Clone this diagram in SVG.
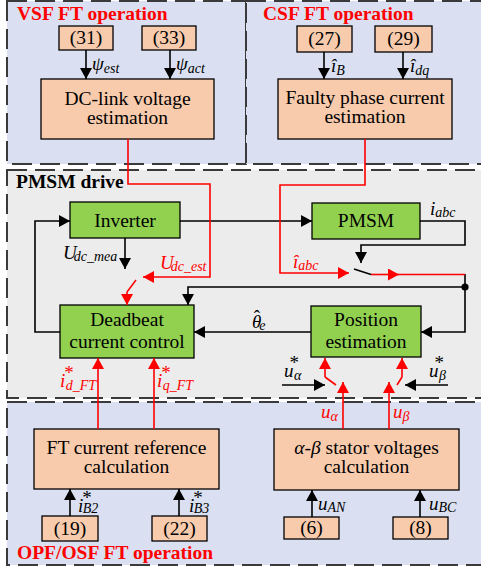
<svg xmlns="http://www.w3.org/2000/svg" width="481" height="569" viewBox="0 0 481 569">
  <style>
    text { font-family: "Liberation Serif", "Times New Roman", serif; }
    .panel { stroke: #3a3a3a; stroke-width: 2; stroke-dasharray: 20 8; }
    .blue { fill: #dae0f1; }
    .grey { fill: #ececec; }
    .title { font-size: 19.5px; font-weight: bold; }
    .red-t { fill: #ff0000; }
    .box { stroke: #000; stroke-width: 1.3; }
    .calc { fill: #f8cbad; }
    .blk { fill: #92d050; }
    .bt { font-size: 19.5px; fill: #000; text-anchor: middle; }
    .lab { font-size: 19px; font-style: italic; }
    .sub { font-size: 14px; }
    .star { font-style: normal; }
    .w { fill: none; stroke: #000; stroke-width: 1.6; }
    .r { fill: none; stroke: #ff0000; stroke-width: 1.6; }
  </style>
  <defs>
    <marker id="ah" markerUnits="userSpaceOnUse" markerWidth="11" markerHeight="12" refX="11" refY="6" orient="auto">
      <path d="M0,0 L11,6 L0,12 z" fill="#000"/>
    </marker>
    <marker id="ahr" markerUnits="userSpaceOnUse" markerWidth="11" markerHeight="12" refX="11" refY="6" orient="auto">
      <path d="M0,0 L11,6 L0,12 z" fill="#ff0000"/>
    </marker>
  </defs>

  <!-- background panels -->
  <g id="panels">
    <rect class="panel blue" x="7" y="1" width="239" height="163"/>
    <rect class="panel blue" x="246" y="1" width="240" height="163"/>
    <rect class="panel grey" x="7" y="170" width="480" height="228"/>
    <rect class="panel blue" x="7" y="402" width="480" height="163"/>
    <text class="title red-t" x="17" y="20">VSF FT operation</text>
    <text class="title red-t" x="263" y="20">CSF FT operation</text>
    <text class="title" x="16" y="188">PMSM drive</text>
    <text class="title red-t" x="17" y="559">OPF/OSF FT operation</text>
  </g>

  <!-- VSF blocks -->
  <g id="eq31">
    <rect class="box calc" x="59" y="26" width="54" height="24"/>
    <text class="bt" x="86" y="44">(31)</text>
  </g>
  <g id="eq33">
    <rect class="box calc" x="142" y="26" width="54" height="24"/>
    <text class="bt" x="169" y="44">(33)</text>
  </g>
  <g id="dclink">
    <rect class="box calc" x="41" y="79" width="173" height="60"/>
    <text class="bt" x="127.5" y="105">DC-link voltage</text>
    <text class="bt" x="127.5" y="124">estimation</text>
  </g>

  <!-- CSF blocks -->
  <g id="eq27">
    <rect class="box calc" x="297" y="26" width="55" height="26"/>
    <text class="bt" x="324.5" y="45">(27)</text>
  </g>
  <g id="eq29">
    <rect class="box calc" x="375" y="26" width="57" height="26"/>
    <text class="bt" x="403.5" y="45">(29)</text>
  </g>
  <g id="faulty">
    <rect class="box calc" x="278" y="79" width="174" height="60"/>
    <text class="bt" x="365" y="104">Faulty phase current</text>
    <text class="bt" x="365" y="123">estimation</text>
  </g>

  <!-- drive blocks -->
  <g id="inverter">
    <rect class="box blk" x="70" y="202" width="110" height="36"/>
    <text class="bt" x="125" y="227">Inverter</text>
  </g>
  <g id="pmsm">
    <rect class="box blk" x="312" y="203" width="108" height="36"/>
    <text class="bt" x="366" y="227">PMSM</text>
  </g>
  <g id="deadbeat">
    <rect class="box blk" x="60" y="305" width="134" height="53"/>
    <text class="bt" x="127" y="326">Deadbeat</text>
    <text class="bt" x="127" y="348">current control</text>
  </g>
  <g id="position">
    <rect class="box blk" x="311" y="306" width="110" height="51"/>
    <text class="bt" x="366" y="326">Position</text>
    <text class="bt" x="366" y="348">estimation</text>
  </g>

  <!-- OPF/OSF blocks -->
  <g id="ftref">
    <rect class="box calc" x="34" y="429" width="185" height="60"/>
    <text class="bt" x="126.5" y="454">FT current reference</text>
    <text class="bt" x="126.5" y="473">calculation</text>
  </g>
  <g id="eq19">
    <rect class="box calc" x="42" y="516" width="56" height="25"/>
    <text class="bt" x="70" y="535">(19)</text>
  </g>
  <g id="eq22">
    <rect class="box calc" x="152" y="516" width="55" height="25"/>
    <text class="bt" x="179.5" y="535">(22)</text>
  </g>
  <g id="alphabeta">
    <rect class="box calc" x="274" y="429" width="185" height="61"/>
    <text class="bt" x="366.5" y="454"><tspan font-style="italic">α</tspan>-<tspan font-style="italic">β</tspan> stator voltages</text>
    <text class="bt" x="366.5" y="473">calculation</text>
  </g>
  <g id="eq6">
    <rect class="box calc" x="284" y="517" width="55" height="22"/>
    <text class="bt" x="311.5" y="534">(6)</text>
  </g>
  <g id="eq8">
    <rect class="box calc" x="393" y="517" width="55" height="22"/>
    <text class="bt" x="420.5" y="534">(8)</text>
  </g>

  <!-- connectors -->
  <g id="connectors">
    <!-- black signal paths -->
    <path class="w" d="M86,50 V79" marker-end="url(#ah)"/>
    <path class="w" d="M170,50 V79" marker-end="url(#ah)"/>
    <path class="w" d="M324,52 V79" marker-end="url(#ah)"/>
    <path class="w" d="M403,52 V79" marker-end="url(#ah)"/>
    <path class="w" d="M180,221 H312" marker-end="url(#ah)"/>
    <path class="w" d="M60,332 H35 V221 H70" marker-end="url(#ah)"/>
    <path class="w" d="M125,238 V269" marker-end="url(#ah)"/>
    <path class="w" d="M420,221 H465 V245 H361 V263" marker-end="url(#ah)"/>
    <line class="w" x1="354" y1="269" x2="371" y2="274.5"/>
    <path class="w" d="M465,274 V332 H421" marker-end="url(#ah)"/>
    <path class="w" d="M465,287 H188 V305" marker-end="url(#ah)"/>
    <circle cx="465" cy="287" r="3.6" fill="#000"/>
    <path class="w" d="M311,332 H194" marker-end="url(#ah)"/>
    <path class="w" d="M282,385 H325" marker-end="url(#ah)"/>
    <path class="w" d="M448,385 H405" marker-end="url(#ah)"/>
    <path class="w" d="M70,516 V489" marker-end="url(#ah)"/>
    <path class="w" d="M179,516 V489" marker-end="url(#ah)"/>
    <path class="w" d="M312,517 V490" marker-end="url(#ah)"/>
    <path class="w" d="M420,517 V490" marker-end="url(#ah)"/>

    <!-- red fault-tolerant paths -->
    <path class="r" d="M128,139 V184 H210 V277 H143" marker-end="url(#ahr)"/>
    <line class="r" x1="136" y1="280" x2="127" y2="292"/>
    <path class="r" d="M127,292 V305" marker-end="url(#ahr)"/>
    <path class="r" d="M365,139 V185 H280 V273 H349" marker-end="url(#ahr)"/>
    <path class="r" d="M371,274.5 H399" marker-end="url(#ahr)"/>
    <path class="r" d="M398,274.5 H465"/>
    <path class="r" d="M98,429 V358" marker-end="url(#ahr)"/>
    <path class="r" d="M154,429 V358" marker-end="url(#ahr)"/>
    <path class="r" d="M343,429 V382" marker-end="url(#ahr)"/>
    <line class="r" x1="336" y1="385" x2="325" y2="377"/>
    <path class="r" d="M325,377 V358" marker-end="url(#ahr)"/>
    <path class="r" d="M389,429 V382" marker-end="url(#ahr)"/>
    <line class="r" x1="397" y1="385" x2="402" y2="377"/>
    <path class="r" d="M402,377 V358" marker-end="url(#ahr)"/>
  </g>

  <!-- signal labels -->
  <g id="labels">
    <text class="lab" x="92" y="70">ψ<tspan class="sub" dy="3">est</tspan></text>
    <text class="lab" x="176" y="70">ψ<tspan class="sub" dy="3">act</tspan></text>
    <text class="lab" x="331" y="72">î<tspan class="sub" dy="3">B</tspan></text>
    <text class="lab" x="410" y="72">î<tspan class="sub" dy="3">dq</tspan></text>
    <text class="lab" x="430" y="215">i<tspan class="sub" dy="2">abc</tspan></text>
    <text class="lab red-t" x="293" y="268">î<tspan class="sub" dy="2">abc</tspan></text>
    <text class="lab" x="63" y="259">U<tspan class="sub" dx="-3" dy="2">dc_mea</tspan></text>
    <text class="lab red-t" x="160" y="269">U<tspan class="sub" dx="-3" dy="2">dc_est</tspan></text>
    <text class="lab" x="252" y="328">θ<tspan class="star" dx="-7.5" dy="-5">ˆ</tspan><tspan class="sub" dx="-1" dy="7">e</tspan></text>

    <text class="lab red-t" x="60" y="387">i<tspan class="star" dx="-1" dy="-8">*</tspan><tspan class="sub" dx="-8" dy="11">d_FT</tspan></text>
    <text class="lab red-t" x="157" y="387">i<tspan class="star" dx="-1" dy="-8">*</tspan><tspan class="sub" dx="-8" dy="11">q_FT</tspan></text>

    <text class="lab" x="284" y="377">u<tspan class="star" dx="-4" dy="-8">*</tspan><tspan class="sub" dx="-5" dy="11">α</tspan></text>
    <text class="lab" x="429" y="377">u<tspan class="star" dx="-4" dy="-8">*</tspan><tspan class="sub" dx="-5" dy="11">β</tspan></text>

    <text class="lab red-t" x="321" y="418">u<tspan class="sub" dy="3">α</tspan></text>
    <text class="lab red-t" x="393" y="418">u<tspan class="sub" dy="3">β</tspan></text>

    <text class="lab" x="78" y="512">i<tspan class="star" dx="-1" dy="-8">*</tspan><tspan class="sub" dx="-9" dy="9">B2</tspan></text>
    <text class="lab" x="189" y="512">i<tspan class="star" dx="-1" dy="-8">*</tspan><tspan class="sub" dx="-9" dy="9">B3</tspan></text>

    <text class="lab" x="318" y="510">u<tspan class="sub" dy="2">AN</tspan></text>
    <text class="lab" x="429" y="510">u<tspan class="sub" dy="2">BC</tspan></text>
  </g>
</svg>
